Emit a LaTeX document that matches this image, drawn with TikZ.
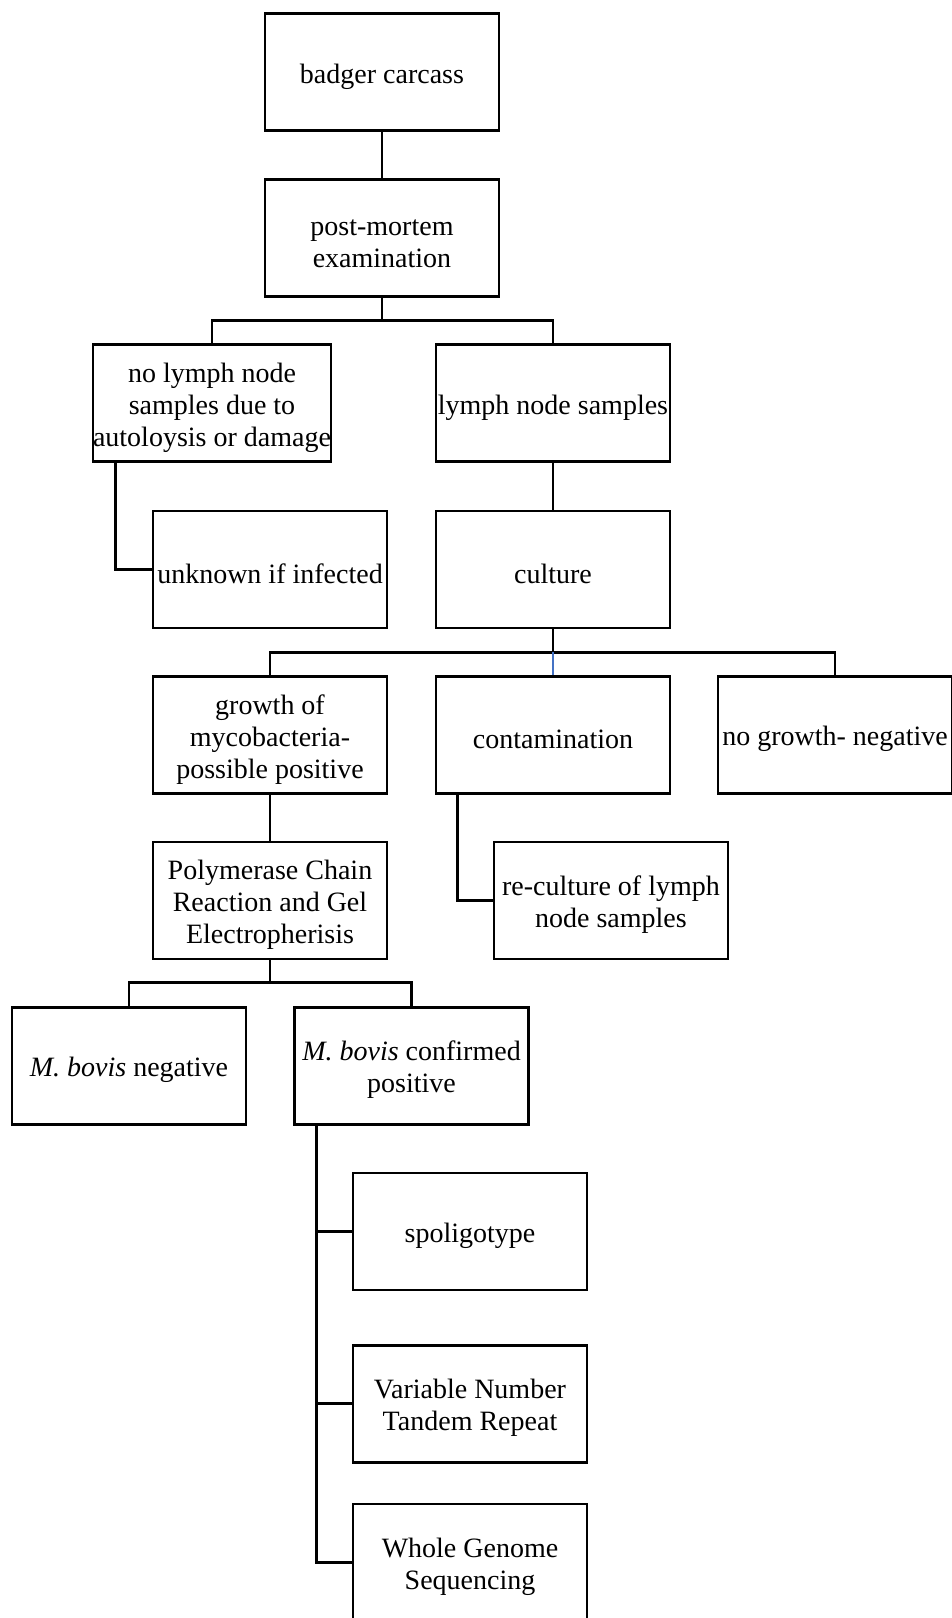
\documentclass[tikz,border=0pt]{standalone}
\usepackage{fontspec}
\setmainfont{Liberation Serif}
\definecolor{linkblue}{RGB}{68,114,196}
\newcommand{\lift}{\rule{0pt}{14pt}}
\tikzset{
  stagebox/.style={draw, line width=1.3pt, minimum width=117pt, minimum height=58.5pt,
    inner sep=0pt, align=center, font=\fontsize{14}{16}\selectfont},
  link/.style={line width=1.3pt},
  thinlink/.style={line width=0.6pt, linkblue}
}
\begin{document}
\begin{tikzpicture}[x=0.5pt,y=-0.5pt]
\useasboundingbox (0,0) rectangle (952,1618);
\node[stagebox] (carcass) at (382,72.2) {\lift badger carcass};
\node[stagebox] (postmortem) at (382,238) {\lift post-mortem\\examination};
\node[stagebox] (nosamples) at (212,403.2) {\lift no lymph node\\samples due to\\autoloysis or damage};
\node[stagebox] (samples) at (553,403.2) {\lift lymph node samples};
\node[stagebox] (unknown) at (270,569.3) {\lift unknown if infected};
\node[stagebox] (culture) at (553,569.3) {\lift culture};
\node[stagebox] (growth) at (270,735) {\lift growth of\\mycobacteria-\\possible positive};
\node[stagebox] (contam) at (553,735) {\lift contamination};
\node[stagebox] (nogrowth) at (835,735) {\lift no growth- negative};
\node[stagebox] (pcr) at (270,900.5) {\lift Polymerase Chain\\Reaction and Gel\\Electropherisis};
\node[stagebox] (reculture) at (611,900.5) {\lift re-culture of lymph\\node samples};
\node[stagebox] (negative) at (129,1065.7) {\lift\textit{M. bovis} negative};
\node[stagebox] (confirmed) at (411.5,1065.7) {\lift\textit{M. bovis} confirmed\\positive};
\node[stagebox] (spoligo) at (470,1231.5) {\lift spoligotype};
\node[stagebox] (vntr) at (470,1403.7) {\lift Variable Number\\Tandem Repeat};
\node[stagebox] (wgs) at (470,1562.5) {\lift Whole Genome\\Sequencing};
\coordinate (split1) at (382,320.5);
\coordinate (split2) at (553,652.3);
\coordinate (split3) at (270,982.7);
\draw[link] (carcass) -- (postmortem);
\draw[link] (postmortem) -- (split1);
\draw[link] (nosamples.north) |- (split1) -| (samples.north);
\draw[link] ([xshift=12pt]nosamples.south west) |- (unknown.west);
\draw[link] (samples) -- (culture);
\draw[link] (culture) -- (split2);
\draw[link] (growth.north) |- (split2) -| (nogrowth.north);
\draw[thinlink] (split2) -- (contam.north);
\draw[link] ([xshift=11.5pt]contam.south west) |- (reculture.west);
\draw[link] (growth) -- (pcr);
\draw[link] (pcr) -- (split3);
\draw[link] (negative.north) |- (split3) -| (confirmed.north);
\draw[link] ([xshift=11.5pt]confirmed.south west) |- (spoligo.west);
\draw[link] ([xshift=11.5pt]confirmed.south west) |- (vntr.west);
\draw[link] ([xshift=11.5pt]confirmed.south west) |- (wgs.west);
\end{tikzpicture}
\end{document}
